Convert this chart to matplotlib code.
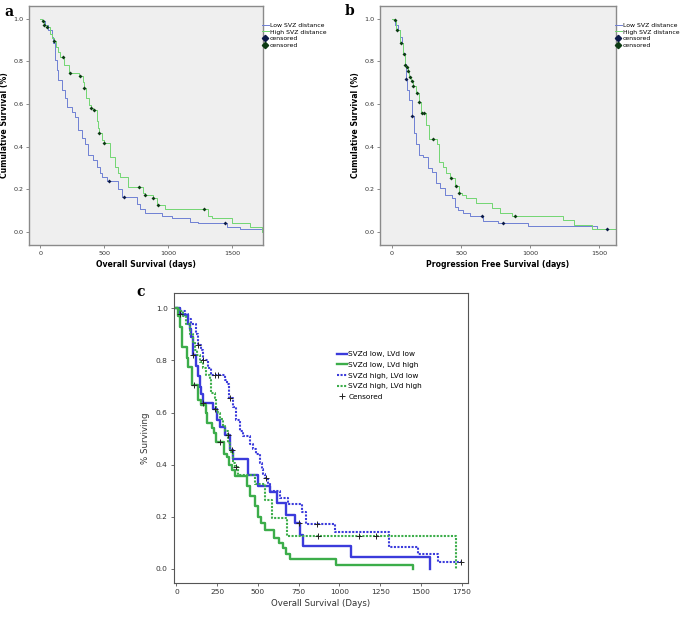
import matplotlib
matplotlib.use("Agg")
import matplotlib.pyplot as plt
from matplotlib.lines import Line2D

plt.rcParams['font.family'] = ['DejaVu Sans']

# ---- panel a: overall survival, low vs high SVZ distance
a_low_t = [0, 15, 39, 65, 91, 104, 117, 130, 143, 169, 195, 208, 247, 273, 299, 326, 352, 378, 417, 443, 469, 482, 521, 612, 638, 755, 781, 820, 950, 1029, 1172, 1237, 1458, 1563, 1742]
a_low_s = [1.0, 0.99, 0.97, 0.947, 0.916, 0.885, 0.806, 0.759, 0.713, 0.666, 0.627, 0.588, 0.564, 0.541, 0.478, 0.439, 0.415, 0.361, 0.337, 0.306, 0.275, 0.259, 0.237, 0.2, 0.166, 0.13, 0.11, 0.088, 0.075, 0.064, 0.048, 0.04, 0.025, 0.012, 0.012]
a_low_cens_t = [541, 658, 1448]
a_low_cens_s = [0.237, 0.166, 0.04]

a_high_t = [0, 15, 30, 50, 75, 95, 105, 125, 140, 155, 188, 229, 307, 333, 344, 359, 385, 396, 415, 443, 456, 461, 482, 500, 547, 586, 612, 625, 690, 807, 823, 880, 917, 977, 1315, 1341, 1497, 1641, 1738, 1740]
a_high_s = [1.0, 0.99, 0.97, 0.96, 0.93, 0.91, 0.896, 0.87, 0.845, 0.822, 0.783, 0.745, 0.733, 0.705, 0.677, 0.627, 0.596, 0.583, 0.572, 0.52, 0.49, 0.466, 0.43, 0.416, 0.353, 0.306, 0.275, 0.259, 0.212, 0.181, 0.173, 0.158, 0.127, 0.107, 0.075, 0.067, 0.044, 0.025, 0.0, 0.0]
a_high_cens_t = [21, 34, 57, 109, 177, 234, 313, 344, 396, 422, 461, 500, 773, 823, 885, 919, 1284]
a_high_cens_s = [0.99, 0.97, 0.96, 0.896, 0.822, 0.745, 0.733, 0.677, 0.583, 0.572, 0.466, 0.416, 0.212, 0.173, 0.158, 0.127, 0.107]

# ---- panel b: progression free survival
b_low_t = [0, 20, 43, 60, 72, 80, 92, 99, 109, 124, 141, 158, 177, 196, 225, 262, 286, 317, 346, 382, 431, 455, 479, 515, 563, 660, 770, 986, 1481, 1620]
b_low_s = [1.0, 0.97, 0.947, 0.916, 0.885, 0.838, 0.79, 0.716, 0.665, 0.619, 0.545, 0.463, 0.415, 0.36, 0.353, 0.298, 0.283, 0.228, 0.205, 0.174, 0.158, 0.119, 0.103, 0.087, 0.074, 0.053, 0.044, 0.028, 0.013, 0.013]
b_low_cens_t = [99, 145, 648, 805, 1558]
b_low_cens_s = [0.716, 0.545, 0.074, 0.044, 0.013]

b_high_t = [0, 12, 30, 55, 80, 92, 104, 114, 124, 140, 150, 175, 192, 212, 249, 268, 322, 338, 370, 394, 420, 455, 482, 503, 539, 611, 720, 781, 870, 1240, 1315, 1450, 1620]
b_high_s = [1.0, 0.994, 0.947, 0.885, 0.833, 0.783, 0.772, 0.755, 0.728, 0.708, 0.684, 0.65, 0.608, 0.556, 0.5, 0.437, 0.415, 0.329, 0.306, 0.275, 0.251, 0.217, 0.181, 0.173, 0.158, 0.134, 0.111, 0.09, 0.077, 0.058, 0.033, 0.015, 0.015]
b_high_cens_t = [19, 37, 63, 87, 95, 109, 116, 128, 147, 152, 184, 196, 218, 235, 295, 426, 460, 487, 889]
b_high_cens_s = [0.994, 0.947, 0.885, 0.833, 0.783, 0.772, 0.755, 0.728, 0.708, 0.684, 0.65, 0.608, 0.556, 0.556, 0.437, 0.251, 0.217, 0.181, 0.077]

# ---- panel c: four groups
c_groups = ["SVZd low, LVd low", "SVZd low, LVd high", "SVZd high, LVd low", "SVZd high, LVd high"]

c_ll_t = [0, 20, 41, 72, 82, 92, 100, 123, 133, 143, 150, 160, 225, 250, 266, 297, 327, 348, 440, 501, 573, 617, 674, 726, 757, 777, 1074, 1555]
c_ll_s = [1.0, 0.98, 0.975, 0.94, 0.92, 0.89, 0.82, 0.78, 0.74, 0.70, 0.67, 0.635, 0.615, 0.57, 0.545, 0.515, 0.455, 0.42, 0.36, 0.32, 0.297, 0.252, 0.207, 0.175, 0.131, 0.088, 0.045, 0.0]

c_lh_t = [0, 10, 20, 35, 62, 73, 94, 135, 150, 180, 188, 219, 229, 245, 290, 312, 323, 340, 360, 430, 450, 481, 501, 520, 542, 597, 629, 654, 675, 699, 982, 1452]
c_lh_s = [1.0, 0.97, 0.93, 0.85, 0.81, 0.776, 0.706, 0.648, 0.63, 0.6, 0.56, 0.54, 0.52, 0.488, 0.44, 0.43, 0.4, 0.38, 0.355, 0.32, 0.28, 0.24, 0.2, 0.175, 0.15, 0.12, 0.1, 0.08, 0.057, 0.038, 0.014, 0.0]

c_hl_t = [0, 20, 51, 72, 92, 123, 133, 153, 160, 194, 215, 297, 310, 325, 350, 365, 389, 409, 450, 470, 491, 512, 522, 532, 545, 563, 572, 633, 684, 772, 793, 971, 1305, 1483, 1606, 1749]
c_hl_s = [1.0, 0.99, 0.98, 0.96, 0.94, 0.9, 0.86, 0.84, 0.8, 0.77, 0.745, 0.725, 0.71, 0.655, 0.62, 0.57, 0.53, 0.51, 0.48, 0.46, 0.44, 0.405, 0.385, 0.365, 0.35, 0.33, 0.30, 0.271, 0.249, 0.22, 0.173, 0.143, 0.086, 0.056, 0.028, 0.028]

c_hh_t = [0, 15, 41, 60, 82, 102, 112, 125, 143, 164, 180, 205, 215, 235, 245, 256, 266, 286, 297, 317, 327, 348, 362, 378, 481, 542, 588, 678, 1718]
c_hh_s = [1.0, 0.99, 0.97, 0.94, 0.9, 0.87, 0.84, 0.82, 0.795, 0.77, 0.745, 0.725, 0.675, 0.655, 0.61, 0.6, 0.575, 0.55, 0.53, 0.485, 0.45, 0.405, 0.39, 0.36, 0.325, 0.265, 0.194, 0.128, 0.0]

c_cens_t = [20, 102, 160, 235, 315, 340, 750, 110, 268, 133, 160, 235, 256, 327, 552, 865, 1749, 364, 869, 1120, 1223]
c_cens_s = [0.98, 0.82, 0.635, 0.615, 0.515, 0.455, 0.175, 0.706, 0.488, 0.86, 0.80, 0.745, 0.745, 0.655, 0.35, 0.173, 0.028, 0.39, 0.128, 0.128, 0.128]

blue_ab = '#6f80d4'
green_ab = '#72d672'
blue_c = '#3b3bdb'
green_c = '#3cad4a'

fig = plt.figure(figsize=(6.85, 6.19), dpi=100)
W, H = 685, 619


def px_axes(l, t, r, b):
    return fig.add_axes([l / W, 1 - b / H, (r - l) / W, (b - t) / H])


def style_ab(ax, xmax, xlabel):
    ax.set_facecolor('#efefef')
    for sp in ax.spines.values():
        sp.set_color('#8a8a8a')
        sp.set_linewidth(1.0)
    ax.set_xlim(-87, xmax)
    ax.set_ylim(-0.061, 1.06)
    ax.set_xticks([0, 500, 1000, 1500])
    ax.set_yticks([0.0, 0.2, 0.4, 0.6, 0.8, 1.0])
    ax.set_yticklabels(['0.0', '0.2', '0.4', '0.6', '0.8', '1.0'])
    ax.tick_params(labelsize=4.6, length=2, width=0.6, color='#777777', labelcolor='#333333', pad=2)
    ax.set_ylabel('Cumulative Survival (%)', fontsize=5.6, fontweight='bold', labelpad=3)
    ax.set_xlabel(xlabel, fontsize=5.6, fontweight='bold', labelpad=3)
    handles = [Line2D([], [], color=blue_ab, lw=0.7),
               Line2D([], [], color=green_ab, lw=0.7),
               Line2D([], [], color='#0b1a48', marker='D', ms=3.2, lw=0),
               Line2D([], [], color='#0b3a12', marker='D', ms=3.2, lw=0)]
    ax.legend(handles, ['Low SVZ distance', 'High SVZ distance', 'censored', 'censored'],
              loc='upper left', bbox_to_anchor=(0.995, 0.93), frameon=False, fontsize=4.4,
              handlelength=1.1, handletextpad=0.2, labelspacing=0.22, borderaxespad=0, borderpad=0)


# panel a
ax1 = px_axes(29, 6, 263, 245)
ax1.step(a_low_t, a_low_s, where='post', color=blue_ab, lw=0.7)
ax1.step(a_high_t, a_high_s, where='post', color=green_ab, lw=0.7)
ax1.plot(a_low_cens_t, a_low_cens_s, 'D', color='#0b1a48', ms=2.0, mew=0)
ax1.plot(a_high_cens_t, a_high_cens_s, 'D', color='#0b3a12', ms=2.0, mew=0)
style_ab(ax1, 1742, 'Overall Survival (days)')

# panel b
ax2 = px_axes(380, 6, 616, 245)
ax2.step(b_low_t, b_low_s, where='post', color=blue_ab, lw=0.7)
ax2.step(b_high_t, b_high_s, where='post', color=green_ab, lw=0.7)
ax2.plot(b_low_cens_t, b_low_cens_s, 'D', color='#0b1a48', ms=2.0, mew=0)
ax2.plot(b_high_cens_t, b_high_cens_s, 'D', color='#0b3a12', ms=2.0, mew=0)
style_ab(ax2, 1621, 'Progression Free Survival (days)')

# panel c
ax3 = px_axes(174, 293, 468, 583)
dot = (0, (1.0, 0.7))
ax3.step(c_ll_t, c_ll_s, where='post', color=blue_c, lw=1.7, label=c_groups[0])
ax3.step(c_lh_t, c_lh_s, where='post', color=green_c, lw=1.7, label=c_groups[1])
ax3.step(c_hl_t, c_hl_s, where='post', color=blue_c, lw=1.5, ls=dot, label=c_groups[2])
ax3.step(c_hh_t, c_hh_s, where='post', color=green_c, lw=1.5, ls=dot, label=c_groups[3])
ax3.plot(c_cens_t, c_cens_s, '+', color='#222222', ms=4, mew=0.7, label='Censored')
ax3.set_xlim(-15, 1789)
ax3.set_ylim(-0.054, 1.059)
ax3.set_xticks([0, 250, 500, 750, 1000, 1250, 1500, 1750])
ax3.set_yticks([0.0, 0.2, 0.4, 0.6, 0.8, 1.0])
ax3.set_yticklabels(['0.0', '0.2', '0.4', '0.6', '0.8', '1.0'])
for sp in ax3.spines.values():
    sp.set_color('#555555')
    sp.set_linewidth(0.8)
ax3.tick_params(labelsize=5.4, length=2.5, width=0.6, color='#555555', labelcolor='#333333', pad=2)
ax3.set_xlabel('Overall Survival (Days)', fontsize=6.2, color='#333333', labelpad=3)
ax3.set_ylabel('% Surviving', fontsize=6.2, color='#333333', labelpad=4)
ax3.legend(loc='upper left', bbox_to_anchor=(0.555, 0.80), frameon=False, fontsize=5.3,
           handlelength=1.4, handletextpad=0.1, labelspacing=0.62, borderaxespad=0, borderpad=0)

# panel letters
fig.text(4 / W, 1 - 12 / H, 'a', fontsize=10, fontweight='bold', family='DejaVu Serif', va='center')
fig.text(345 / W, 1 - 11 / H, 'b', fontsize=10, fontweight='bold', family='DejaVu Serif', va='center')
fig.text(136 / W, 1 - 292 / H, 'c', fontsize=10, fontweight='bold', family='DejaVu Serif', va='center')

fig.savefig('out.png', dpi=100)
